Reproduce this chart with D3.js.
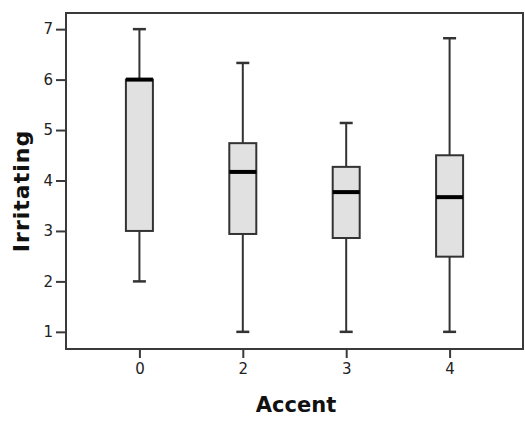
<!DOCTYPE html>
<meta charset="utf-8">
<script src="https://d3js.org/d3.v7.min.js"></script>
<style>
  body { margin: 0; background: #fff; }
</style>
<div id="my_dataviz"></div>
<script>
// box plot values
var accents = ["0", "2", "3", "4"];
var lowWhisker = [2, 1, 1, 1];
var q1 = [3, 2.94, 2.86, 2.49];
var median = [6, 4.17, 3.77, 3.67];
var q3 = [6, 4.74, 4.27, 4.5];
var highWhisker = [7, 6.33, 5.14, 6.82];
var yTicks = [1, 2, 3, 4, 5, 6, 7];

var width = 525, height = 421;
var margin = {left: 66, right: 2, top: 13, bottom: 72};

var svg = d3.select("#my_dataviz")
  .append("svg")
    .attr("width", width)
    .attr("height", height);

var x = d3.scalePoint()
  .domain(accents)
  .range([margin.left, width - margin.right])
  .padding(0.71);

var y = d3.scaleLinear()
  .domain([0.66, 7.32])
  .range([height - margin.bottom, margin.top]);

// frame
svg.append("rect")
  .attr("x", margin.left)
  .attr("y", margin.top)
  .attr("width", width - margin.left - margin.right)
  .attr("height", height - margin.top - margin.bottom)
  .attr("fill", "none")
  .attr("stroke", "#3a3a3a")
  .attr("stroke-width", 2);

// axes
var yAxis = svg.append("g")
  .attr("transform", "translate(" + margin.left + ",0)")
  .call(d3.axisLeft(y).tickValues(yTicks).tickFormat(d3.format("d")).tickSize(10).tickPadding(3));
var xAxis = svg.append("g")
  .attr("transform", "translate(0," + (height - margin.bottom) + ")")
  .call(d3.axisBottom(x).tickSize(9).tickPadding(5));

[yAxis, xAxis].forEach(function(a) {
  a.select(".domain").remove();
  a.selectAll(".tick line").attr("stroke", "#3a3a3a").attr("stroke-width", 2);
  a.selectAll(".tick text")
    .attr("fill", "#222")
    .style("font-family", "DejaVu Sans, sans-serif")
    .style("font-size", "15px");
});

var boxW = 27, capW = 13;
var rows = accents.map(function(a, i) {
  return {k: a, lo: lowWhisker[i], q1: q1[i], med: median[i], q3: q3[i], hi: highWhisker[i]};
});

var g = svg.selectAll("g.box")
  .data(rows)
  .enter().append("g")
    .attr("class", "box");

// whiskers
g.append("line")
  .attr("x1", function(d) { return x(d.k); })
  .attr("x2", function(d) { return x(d.k); })
  .attr("y1", function(d) { return y(d.hi); })
  .attr("y2", function(d) { return y(d.lo); })
  .attr("stroke", "#333")
  .attr("stroke-width", 2);

g.selectAll("line.cap")
  .data(function(d) { return [{k: d.k, v: d.lo}, {k: d.k, v: d.hi}]; })
  .enter().append("line")
    .attr("class", "cap")
    .attr("x1", function(d) { return x(d.k) - capW / 2; })
    .attr("x2", function(d) { return x(d.k) + capW / 2; })
    .attr("y1", function(d) { return y(d.v); })
    .attr("y2", function(d) { return y(d.v); })
    .attr("stroke", "#333")
    .attr("stroke-width", 2.5);

// boxes
g.append("rect")
  .attr("x", function(d) { return x(d.k) - boxW / 2; })
  .attr("y", function(d) { return y(d.q3); })
  .attr("width", boxW)
  .attr("height", function(d) { return y(d.q1) - y(d.q3); })
  .attr("fill", "#e1e1e1")
  .attr("stroke", "#333")
  .attr("stroke-width", 2);

// medians
g.append("line")
  .attr("x1", function(d) { return x(d.k) - boxW / 2; })
  .attr("x2", function(d) { return x(d.k) + boxW / 2; })
  .attr("y1", function(d) { return y(d.med); })
  .attr("y2", function(d) { return y(d.med); })
  .attr("stroke", "#000")
  .attr("stroke-width", 4);

// axis titles
svg.append("text")
  .attr("x", 296)
  .attr("y", 412)
  .attr("text-anchor", "middle")
  .style("font-family", "DejaVu Sans, sans-serif")
  .style("font-weight", "bold")
  .style("font-size", "21px")
  .attr("fill", "#111")
  .text("Accent");

svg.append("text")
  .attr("transform", "translate(29,191) rotate(-90)")
  .attr("text-anchor", "middle")
  .style("font-family", "DejaVu Sans, sans-serif")
  .style("font-weight", "bold")
  .style("font-size", "22px")
  .style("letter-spacing", "1px")
  .attr("fill", "#111")
  .text("Irritating");
</script>
